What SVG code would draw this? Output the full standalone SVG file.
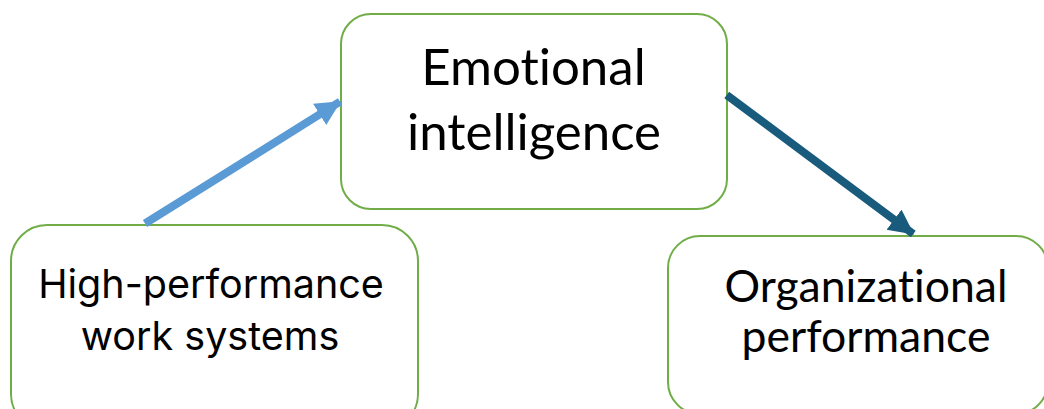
<svg xmlns="http://www.w3.org/2000/svg" width="1044" height="409" viewBox="0 0 1044 409">
  <style>
    .box { fill: #ffffff; stroke: #70AD47; stroke-width: 2; }
    .lbl { font-family: Lato, "Open Sans", "Liberation Sans", sans-serif; fill: #000000; text-anchor: middle; font-variant-ligatures: none; }
    .lbl2 { font-family: Inter, "Noto Sans", "Liberation Sans", sans-serif; fill: #000000; text-anchor: middle; }
  </style>
  <defs>
    <marker id="headBlue" markerUnits="userSpaceOnUse" markerWidth="28" markerHeight="28" refX="24" refY="13" orient="auto">
      <path d="M0,0.5 L25,13 L0,25.5 Z" fill="#5B9BD5"/>
    </marker>
    <marker id="headTeal" markerUnits="userSpaceOnUse" markerWidth="28" markerHeight="28" refX="24" refY="13" orient="auto">
      <path d="M0,0.5 L25,13 L0,25.5 Z" fill="#195B7C"/>
    </marker>
  </defs>

  <rect width="1044" height="409" fill="#ffffff"/>

  <g id="node-hpws">
    <rect class="box" x="11" y="225" width="407" height="205" rx="36"/>
    <text class="lbl2" x="211" y="298" font-size="39.5">High-performance</text>
    <text class="lbl2" x="210" y="350" font-size="39.5">work systems</text>
  </g>

  <g id="node-ei">
    <rect class="box" x="341" y="14" width="386" height="195" rx="30"/>
    <text class="lbl" x="533.5" y="85" font-size="51">Emotional</text>
    <text class="lbl" x="534" y="150" font-size="51">intelligence</text>
  </g>

  <g id="node-op">
    <rect class="box" x="668" y="236" width="380" height="178" rx="32"/>
    <text class="lbl" x="866" y="302" font-size="44.5">Organizational</text>
    <text class="lbl" x="866" y="352" font-size="44.5">performance</text>
  </g>

  <g id="connectors">
    <line x1="145" y1="223.5" x2="340" y2="101.7" stroke="#5B9BD5" stroke-width="8" marker-end="url(#headBlue)"/>
    <line x1="726.7" y1="95" x2="913.3" y2="234" stroke="#195B7C" stroke-width="8" marker-end="url(#headTeal)"/>
  </g>
</svg>
